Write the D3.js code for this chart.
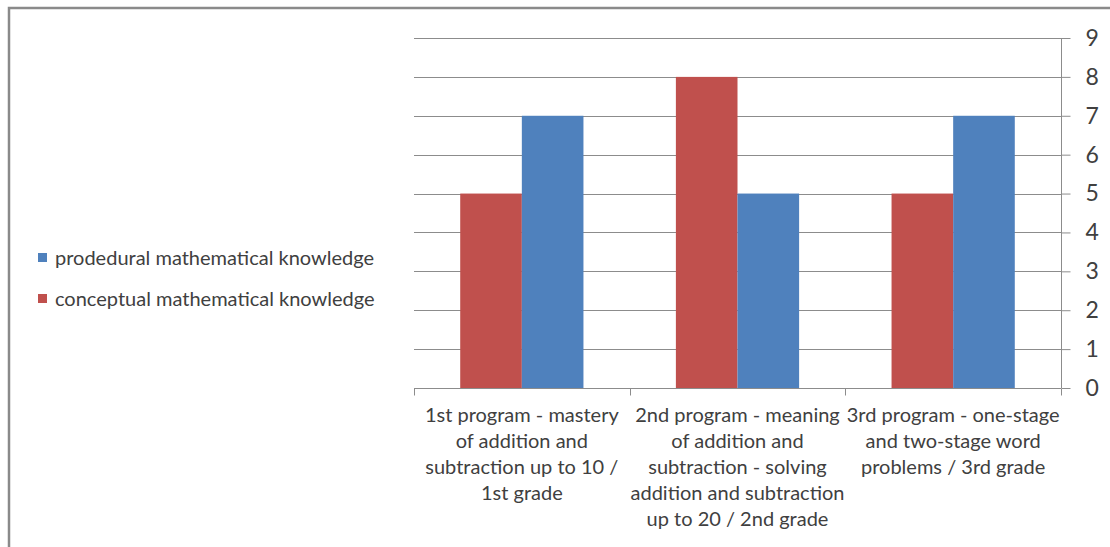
<!DOCTYPE html>
<html>
<head>
<meta charset="utf-8">
<script src="https://cdn.jsdelivr.net/npm/d3@7"></script>
<style>
  body { margin: 0; background: #fff; }
  svg { display: block; font-family: Lato, "Open Sans", sans-serif; }
</style>
</head>
<body>
<svg width="1110" height="547"></svg>
<script>
// categories (line breaks as in the chart)
var categories = [
  ["1st program - mastery", "of addition and", "subtraction up to 10 /", "1st grade"],
  ["2nd program - meaning", "of addition and", "subtraction - solving", "addition and subtraction", "up to 20 / 2nd grade"],
  ["3rd program - one-stage", "and two-stage word", "problems / 3rd grade"]
];
var seriesNames = ["conceptual mathematical knowledge", "prodedural mathematical knowledge"];
var conceptual = [5, 8, 5];
var procedural = [7, 5, 7];
var yTicks = [0, 1, 2, 3, 4, 5, 6, 7, 8, 9];

var colors = { "conceptual mathematical knowledge": "#C0504D", "prodedural mathematical knowledge": "#4F81BD" };

var svg = d3.select("svg");

// outer frame
svg.append("rect")
    .attr("x", 9).attr("y", 8)
    .attr("width", 1200).attr("height", 1000)
    .attr("fill", "none")
    .attr("stroke", "#8a8a8a")
    .attr("stroke-width", 2.5);

var plotL = 414, plotR = 1061, plotT = 38, plotB = 388;

var x = d3.scaleBand()
    .domain(d3.range(categories.length))
    .range([plotL, plotR])
    .paddingInner(0).paddingOuter(0);

var gapRatio = 1.5; // excel gap width 150%
var barW = x.bandwidth() / (2 + gapRatio);
var xs = d3.scaleBand()
    .domain(seriesNames)
    .range([x.bandwidth() / 2 - barW, x.bandwidth() / 2 + barW]);

var y = d3.scaleLinear().domain([0, 9]).range([plotB, plotT]);

// gridlines
svg.append("g").selectAll("line")
  .data(yTicks.filter(function(d) { return d > 0; }))
  .enter().append("line")
    .attr("x1", plotL).attr("x2", plotR)
    .attr("y1", function(d) { return Math.round(y(d)) + 0.5; })
    .attr("y2", function(d) { return Math.round(y(d)) + 0.5; })
    .attr("stroke", "#8c8c8c")
    .attr("stroke-width", 1.2);

// bars
var rows = categories.map(function(c, i) {
  return [
    { cat: i, s: seriesNames[0], v: conceptual[i] },
    { cat: i, s: seriesNames[1], v: procedural[i] }
  ];
});

svg.append("g").selectAll("g")
  .data(rows)
  .enter().append("g")
    .attr("transform", function(d, i) { return "translate(" + x(i) + ",0)"; })
  .selectAll("rect")
  .data(function(d) { return d; })
  .enter().append("rect")
    .attr("x", function(d) { return xs(d.s); })
    .attr("width", xs.bandwidth())
    .attr("y", function(d) { return y(d.v); })
    .attr("height", function(d) { return y(0) - y(d.v); })
    .attr("fill", function(d) { return colors[d.s]; });

// right y axis
var yAxis = d3.axisRight(y).tickValues(yTicks).tickSize(9).tickPadding(15).tickFormat(d3.format("d"));
var gy = svg.append("g")
    .attr("transform", "translate(" + (plotR + 0.5) + ",0)")
    .call(yAxis);
gy.select(".domain").attr("stroke", "#8c8c8c").attr("d", "M0," + plotT + "V" + plotB);
gy.selectAll(".tick line").attr("stroke", "#8c8c8c");
gy.selectAll(".tick text")
    .attr("fill", "#404040")
    .style("font-size", "23px")
    .style("font-family", "Lato, sans-serif");

// x axis
var gx = svg.append("g")
    .attr("transform", "translate(0," + (plotB + 0.5) + ")");
gx.append("line")
    .attr("x1", plotL).attr("x2", plotR)
    .attr("stroke", "#8c8c8c").attr("stroke-width", 1.2);
gx.selectAll("line.tk")
  .data(d3.range(categories.length + 1))
  .enter().append("line")
    .attr("class", "tk")
    .attr("x1", function(d) { return Math.round(plotL + d * x.bandwidth()) + 0.5; })
    .attr("x2", function(d) { return Math.round(plotL + d * x.bandwidth()) + 0.5; })
    .attr("y1", 0).attr("y2", 7)
    .attr("stroke", "#8c8c8c");

gx.selectAll("text.cat")
  .data(categories)
  .enter().append("text")
    .attr("class", "cat")
    .attr("text-anchor", "middle")
    .attr("fill", "#404040")
    .style("font-size", "20px")
    .each(function(lines, i) {
      var t = d3.select(this);
      lines.forEach(function(l, j) {
        t.append("tspan")
          .attr("x", x(i) + x.bandwidth() / 2)
          .attr("y", 33 + j * 26.2)
          .text(l);
      });
    });

// legend
var legend = svg.append("g").selectAll("g")
  .data([seriesNames[1], seriesNames[0]])
  .enter().append("g")
    .attr("transform", function(d, i) { return "translate(38," + (258 + i * 41) + ")"; });
legend.append("rect")
    .attr("x", 0).attr("y", -5)
    .attr("width", 9).attr("height", 9)
    .attr("fill", function(d) { return colors[d]; });
legend.append("text")
    .attr("x", 17).attr("y", 0)
    .attr("dy", "0.35em")
    .attr("fill", "#404040")
    .style("font-size", "20px")
    .text(function(d) { return d; });
</script>
</body>
</html>
